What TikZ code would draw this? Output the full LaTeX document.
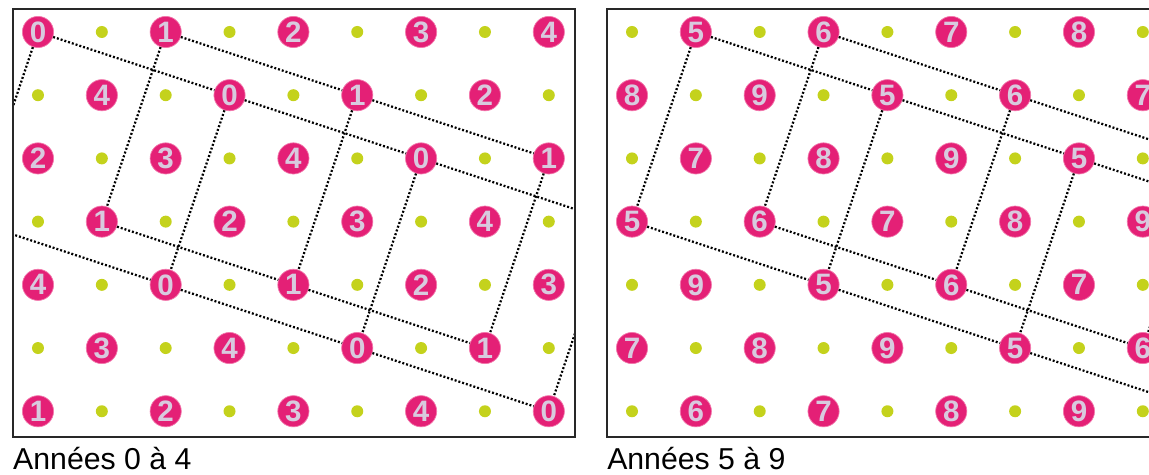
\documentclass[tikz,border=0pt]{standalone}
\usepackage{fontspec}
\setmainfont{Liberation Sans}
\setsansfont{Liberation Sans}

\definecolor{treepink}{RGB}{228,32,118}
\definecolor{treering}{RGB}{242,120,172}
\definecolor{digitgrey}{RGB}{216,202,222}
\definecolor{gapgreen}{RGB}{196,210,28}
\definecolor{framegrey}{RGB}{40,40,40}

\begin{document}
\begin{tikzpicture}[
  x=1.596cm,
  y=-1.58cm,
  font=\sffamily,
  tree/.style={
    circle,
    fill=treepink,
    draw=treering,
    line width=0.5pt,
    minimum size=7.8mm,
    inner sep=0pt,
    text=digitgrey,
    font=\fontsize{21}{21}\selectfont\bfseries
  },
  gap/.style={circle, fill=gapgreen, minimum size=3mm, inner sep=0pt},
  cut/.style={draw=black, line width=1.6pt, dash pattern=on 1.4pt off 1.4pt},
  frame/.style={draw=framegrey, line width=1.8pt},
  caption/.style={anchor=base west, inner sep=0pt, font=\fontsize{21.5}{24}\selectfont}
]

\useasboundingbox (-0.595,-0.506) rectangle (17.40,6.994);

% Left panel: years 0 to 4
\foreach \c in {0,...,8} {
  \foreach \r in {0,...,6} {
    \pgfmathtruncatemacro{\odd}{mod(\c+\r,2)}
    \ifnum\odd=0
      \pgfmathtruncatemacro{\yr}{mod(mod((\c-3*\r)/2,5)+5,5)}
      \node[tree] (L-\c-\r) at (\c,\r) {\yr};
    \else
      \node[gap] (L-\c-\r) at (\c,\r) {};
    \fi
  }
}
\coordinate (L-east) at (9,3);
\coordinate (L-west) at (-1,3);

\begin{scope}
  \clip (-0.392,-0.364) rectangle (8.41,6.41);
  \foreach \a/\b in {L-0-0/L-3-1, L-3-1/L-6-2, L-6-2/L-east,
                     L-west/L-2-4, L-2-4/L-5-5, L-5-5/L-8-6,
                     L-0-0/L-west, L-3-1/L-2-4, L-6-2/L-5-5, L-east/L-8-6,
                     L-2-0/L-5-1, L-5-1/L-8-2,
                     L-1-3/L-4-4, L-4-4/L-7-5,
                     L-2-0/L-1-3, L-5-1/L-4-4, L-8-2/L-7-5}
    \draw[cut] (\a) -- (\b);
\end{scope}
\path[frame] (-0.392,-0.364) rectangle (8.41,6.41);
\node[caption] (capL) at (-0.392,6.915) {Années 0 à 4};

% Right panel: years 5 to 9
\foreach \c in {0,...,8} {
  \foreach \r in {0,...,6} {
    \pgfmathtruncatemacro{\odd}{mod(\c+\r,2)}
    \ifnum\odd=1
      \pgfmathtruncatemacro{\yr}{5+mod(mod((\c-1-3*\r)/2,5)+5,5)}
      \node[tree] (R-\c-\r) at (\c+9.303,\r) {\yr};
    \else
      \node[gap] (R-\c-\r) at (\c+9.303,\r) {};
    \fi
  }
}
\coordinate (R-east5) at (19.303,3);
\coordinate (R-east6) at (18.303,2);
\coordinate (R-far5) at (18.303,6);

\begin{scope}
  \clip (8.911,-0.364) rectangle (17.72,6.41);
  \foreach \a/\b in {R-1-0/R-4-1, R-4-1/R-7-2, R-7-2/R-east5,
                     R-0-3/R-3-4, R-3-4/R-6-5, R-6-5/R-far5,
                     R-1-0/R-0-3, R-4-1/R-3-4, R-7-2/R-6-5,
                     R-3-0/R-6-1, R-6-1/R-east6,
                     R-2-3/R-5-4, R-5-4/R-8-5,
                     R-3-0/R-2-3, R-6-1/R-5-4, R-east6/R-8-5}
    \draw[cut] (\a) -- (\b);
\end{scope}
\path[frame] (8.911,-0.364) rectangle (17.72,6.41);
\node[caption] (capR) at (8.911,6.915) {Années 5 à 9};

\end{tikzpicture}
\end{document}
